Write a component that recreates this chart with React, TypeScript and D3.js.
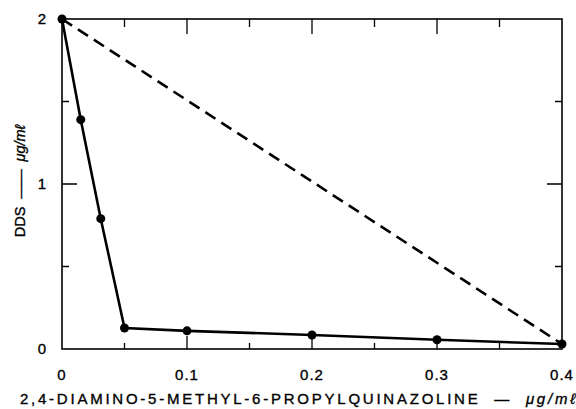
import React from 'react';
import * as d3 from 'd3';

// quinazoline concentration (µg/ml) vs DDS (µg/ml)
const solidX = [0, 0.015, 0.031, 0.05, 0.1, 0.2, 0.3, 0.4];
const solidY = [2, 1.39, 0.79, 0.127, 0.11, 0.085, 0.056, 0.03];
const dashedX = [0, 0.4];
const dashedY = [2, 0.03];

const xTicks = [0, 0.1, 0.2, 0.3, 0.4];
const xTickLabels = ['0', '0.1', '0.2', '0.3', '0.4'];
const xMinor = [0.05, 0.15, 0.25, 0.35];
const yTicks = [0, 1, 2];
const yMinor = [0.5, 1.5];

const W = 576;
const H = 409;
const margin = { top: 19, right: 14, bottom: 60, left: 62 };

const App = () => {
  const x = d3.scaleLinear().domain([0, 0.4]).range([margin.left, W - margin.right]);
  const y = d3.scaleLinear().domain([0, 2]).range([H - margin.bottom, margin.top]);

  const lineGen = d3.line<[number, number]>()
    .x((d) => x(d[0]))
    .y((d) => y(d[1]));
  const solidPath = lineGen(solidX.map((v, i) => [v, solidY[i]] as [number, number]));
  const dashedPath = lineGen(dashedX.map((v, i) => [v, dashedY[i]] as [number, number]));

  const x0 = x(0), x1 = x(0.4), y0 = y(0), y1 = y(2);
  const font = 'Liberation Sans, Arial, sans-serif';
  // slight stroke so the type looks like the heavier print in the original
  const ink = { fill: '#000', stroke: '#000', strokeWidth: 0.35 };

  return (
    <svg width={W} height={H} style={{ position: 'absolute', left: 0, top: 0, background: '#fff' }}>
      <rect x={x0} y={y1} width={x1 - x0} height={y0 - y1} fill="none" stroke="#000" strokeWidth={1.6} />

      {/* major / minor ticks, pointing inward on all four sides */}
      {xTicks.slice(1, -1).map((t) => (
        <g key={'xt' + t} stroke="#000" strokeWidth={1.3}>
          <line x1={x(t)} x2={x(t)} y1={y0} y2={y0 - 13} />
          <line x1={x(t)} x2={x(t)} y1={y1} y2={y1 + 15} />
        </g>
      ))}
      {xMinor.map((t) => (
        <g key={'xm' + t} stroke="#000" strokeWidth={1.3}>
          <line x1={x(t)} x2={x(t)} y1={y0} y2={y0 - 6} />
          <line x1={x(t)} x2={x(t)} y1={y1} y2={y1 + 8} />
        </g>
      ))}
      {yTicks.slice(1, -1).map((t) => (
        <g key={'yt' + t} stroke="#000" strokeWidth={1.5}>
          <line x1={x0} x2={x0 + 15} y1={y(t)} y2={y(t)} />
          <line x1={x1} x2={x1 - 15} y1={y(t)} y2={y(t)} />
        </g>
      ))}
      {yMinor.map((t) => (
        <g key={'ym' + t} stroke="#000" strokeWidth={1.5}>
          <line x1={x0} x2={x0 + 7} y1={y(t)} y2={y(t)} />
          <line x1={x1} x2={x1 - 7} y1={y(t)} y2={y(t)} />
        </g>
      ))}

      <path d={dashedPath || ''} fill="none" stroke="#000" strokeWidth={2.6} strokeDasharray="12,7" />
      <path d={solidPath || ''} fill="none" stroke="#000" strokeWidth={2.6} />
      {solidX.map((v, i) => (
        <circle key={'p' + i} cx={x(v)} cy={y(solidY[i])} r={4.5} fill="#000" />
      ))}

      {xTicks.map((t, i) => (
        <text key={'xl' + t} x={x(t)} y={y0 + 31} textAnchor="middle" fontFamily={font} fontSize={15} letterSpacing={1} {...ink}>
          {xTickLabels[i]}
        </text>
      ))}
      {yTicks.map((t) => (
        <text key={'yl' + t} x={x0 - 20} y={y(t) + 5} textAnchor="middle" fontFamily={font} fontSize={15} {...ink}>
          {t}
        </text>
      ))}

      <text x={20} y={404} fontFamily={font} fontSize={15} textLength={555} lengthAdjust="spacing" style={{ whiteSpace: 'pre' }} {...ink}>
        {'2,4-DIAMINO-5-METHYL-6-PROPYLQUINAZOLINE  —  '}<tspan fontStyle="italic">μg/mℓ</tspan>
      </text>
      <text transform="translate(25,181) rotate(-90)" textAnchor="middle" fontFamily={font} fontSize={14.5} style={{ whiteSpace: 'pre' }} {...ink}>
        {'DDS  ——  '}<tspan fontStyle="italic">μg/mℓ</tspan>
      </text>
    </svg>
  );
};

export default App;
